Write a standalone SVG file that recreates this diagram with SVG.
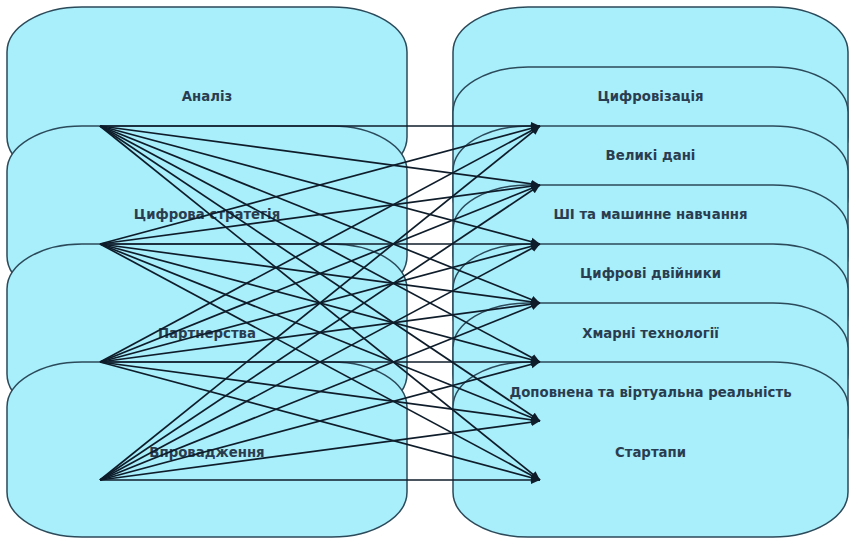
<svg xmlns="http://www.w3.org/2000/svg" width="850" height="541" viewBox="0 0 850 541">
<style>
.box{fill:#a8eefb;stroke:#2b4a5a;stroke-width:1.5}
.lbl{font-family:"DejaVu Sans","Liberation Sans",sans-serif;font-weight:bold;font-size:13.3px;fill:#2a3d50;text-anchor:middle}
.edge{stroke:#0f1d2b;stroke-width:1.7;fill:none;marker-end:url(#ah)}
</style>
<defs>
<marker id="ah" markerUnits="userSpaceOnUse" markerWidth="10" markerHeight="10" refX="9" refY="4.5" orient="auto">
<path d="M0,0.5 L9,4.5 L0,8.5 z" fill="#0f1d2b"/>
</marker>
</defs>
<rect width="850" height="541" fill="#ffffff"/>
<g id="left-nodes">
<g id="n-analiz"><rect class="box" x="7" y="7" width="400" height="175" rx="75" ry="45"/></g>
<g id="n-strategia"><rect class="box" x="7" y="126" width="400" height="175" rx="75" ry="45"/></g>
<g id="n-partnerstva"><rect class="box" x="7" y="244" width="400" height="175" rx="75" ry="45"/></g>
<g id="n-vprovadzhennia"><rect class="box" x="7" y="362" width="400" height="175" rx="75" ry="45"/></g>
</g>
<g id="right-nodes">
<g id="n-cyfrovizatsia"><rect class="box" x="453" y="7" width="395" height="175" rx="75" ry="45"/></g>
<g id="n-velyki-dani"><rect class="box" x="453" y="67" width="395" height="175" rx="75" ry="45"/></g>
<g id="n-shi"><rect class="box" x="453" y="126" width="395" height="175" rx="75" ry="45"/></g>
<g id="n-dvijnyky"><rect class="box" x="453" y="185" width="395" height="175" rx="75" ry="45"/></g>
<g id="n-hmarni"><rect class="box" x="453" y="244" width="395" height="175" rx="75" ry="45"/></g>
<g id="n-ar-vr"><rect class="box" x="453" y="303" width="395" height="175" rx="75" ry="45"/></g>
<g id="n-startapy"><rect class="box" x="453" y="362" width="395" height="175" rx="75" ry="45"/></g>
</g>
<g id="labels">
<text class="lbl" x="207" y="100.5">Аналіз</text>
<text class="lbl" x="207" y="219">Цифрова стратегія</text>
<text class="lbl" x="207" y="337.5">Партнерства</text>
<text class="lbl" x="207" y="456.5">Впровадження</text>
<text class="lbl" x="650.5" y="100.5">Цифровізація</text>
<text class="lbl" x="650.5" y="159.5">Великі дані</text>
<text class="lbl" x="650.5" y="219">ШІ та машинне навчання</text>
<text class="lbl" x="650.5" y="278">Цифрові двійники</text>
<text class="lbl" x="650.5" y="337.5">Хмарні технології</text>
<text class="lbl" x="650.5" y="397">Доповнена та віртуальна реальність</text>
<text class="lbl" x="650.5" y="456.5">Стартапи</text>
</g>
<g id="connectors">
<path class="edge" d="M100,126 L540,126"/>
<path class="edge" d="M100,126 L540,185"/>
<path class="edge" d="M100,126 L540,244"/>
<path class="edge" d="M100,126 L540,303"/>
<path class="edge" d="M100,126 L540,362"/>
<path class="edge" d="M100,126 L540,421"/>
<path class="edge" d="M100,126 L540,480"/>
<path class="edge" d="M100,244 L540,126"/>
<path class="edge" d="M100,244 L540,185"/>
<path class="edge" d="M100,244 L540,244"/>
<path class="edge" d="M100,244 L540,303"/>
<path class="edge" d="M100,244 L540,362"/>
<path class="edge" d="M100,244 L540,421"/>
<path class="edge" d="M100,244 L540,480"/>
<path class="edge" d="M100,362 L540,126"/>
<path class="edge" d="M100,362 L540,185"/>
<path class="edge" d="M100,362 L540,244"/>
<path class="edge" d="M100,362 L540,303"/>
<path class="edge" d="M100,362 L540,362"/>
<path class="edge" d="M100,362 L540,421"/>
<path class="edge" d="M100,362 L540,480"/>
<path class="edge" d="M100,480 L540,126"/>
<path class="edge" d="M100,480 L540,185"/>
<path class="edge" d="M100,480 L540,244"/>
<path class="edge" d="M100,480 L540,303"/>
<path class="edge" d="M100,480 L540,362"/>
<path class="edge" d="M100,480 L540,421"/>
<path class="edge" d="M100,480 L540,480"/>
</g>
</svg>
